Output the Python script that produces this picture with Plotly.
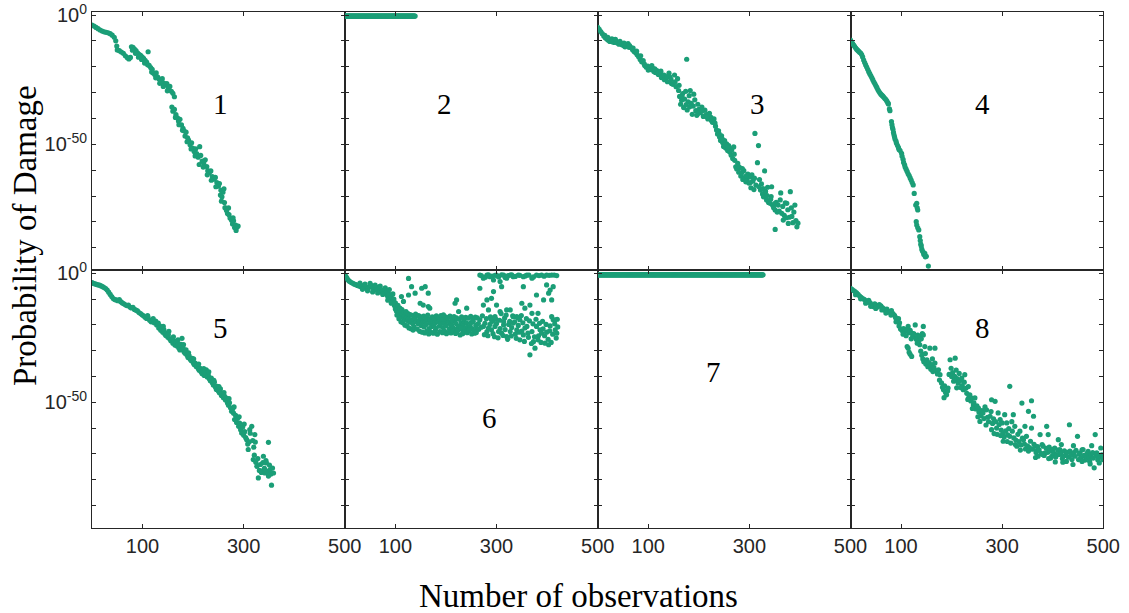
import plotly.graph_objects as go

# ---------------- data: (observation, log10 probability of damage) ----------------
p1 = [(0,-3.9),(4,-4.3),(8,-4.8),(12,-5.3),(16,-5.8),(20,-6.2),(24,-6.5),(28,-6.7),(32,-6.9),(36,-7.2),
      (40,-7.8),(44,-8.6),(47,-10),(49,-12),(50,-13.5),(54,-13.8),(58,-14.3),(62,-14.8),(66,-15.8),(70,-16.5),
      (73,-17),(76,-16.4),(78,-12.3),(81,-12.5),(84,-13.2),(87,-13.8),(90,-14.6),(93,-15.2),(96,-15.6),(99,-16.2),
      (102,-16.8),(105,-17.5),(108,-18.2),(111,-14.2),(113,-19.5),(116,-20.3),(119,-21),(121,-22.4),(124,-23),
      (127,-22.4),(130,-24),(133,-24.8),(136,-25.3),(139,-24.6),(142,-26.3),(145,-27),(148,-26.5),(151,-28.2),
      (154,-27.6),(157,-29.5),(160,-30.3),(163,-31.6),(158,-35.6),(160,-37.2),(163,-36.5),(166,-38.5),(169,-39.8),
      (171,-41),(174,-40.3),(177,-42.5),(180,-43.8),(182,-44.8),(184,-46.8),(186,-45.3),(189,-47.5),(191,-48.4),
      (194,-50.2),(197,-49.4),(199,-51.5),(202,-52.8),(205,-51.8),(207,-53.6),(210,-55),(213,-50.9),(215,-54.3),
      (218,-56.5),(221,-57.2),(224,-56),(227,-58.6),(229,-60.2),(232,-61),(235,-60.3),(238,-62.5),(241,-63.5),
      (244,-62.8),(247,-64.8),(250,-66.2),(252,-65.2),(255,-67.8),(257,-70.3),(259,-68.5),(261,-67.2),(256,-72),
      (263,-74.5),(266,-75.6),(268,-76.8),(271,-77.2),(273,-78.5),(276,-79.4),(278,-80.8),(280,-79.6),(282,-82.2),
      (284,-81.2),(285,-83.3),(287,-82),(289,-81.6),
      (80,-13.6),(86,-14.8),(92,-16.3),(98,-17.2),(104,-18.6),(110,-19.2),(118,-22),(126,-24.3),(134,-26.4),
      (141,-27.6),(149,-29.3),(165,-39.6),(172,-42.4),(179,-44.6),(188,-49),(196,-51.8),(204,-54.5),(212,-57.8),
      (220,-58.8),(228,-61.8),(236,-63.9),(245,-66.4),(254,-69.6),(262,-72.5),(270,-74.6),(279,-78.4)]

p2_obs = list(range(0, 140))
p2_log10 = [-0.4] * len(p2_obs)

p3 = [(0,-4.8),(3,-5.5),(6,-6.4),(9,-7.2),(12,-8.1),(15,-8.8),(18,-9.3),(21,-9.8),(24,-10.2),(27,-9.6),(30,-10.4),
      (33,-10.6),(36,-10.1),(39,-10.8),(42,-11.3),(45,-10.9),(48,-11.5),(51,-11.8),(54,-12.3),(57,-11.4),(60,-11.1),
      (63,-11.8),(66,-12.6),(69,-13.4),(72,-14.1),(75,-14.6),(78,-15.4),(81,-16.1),(84,-17.2),(87,-18.1),(90,-17.6),
      (93,-19.5),(96,-20.2),(99,-19.8),(102,-20.6),(105,-21.1),(108,-20.4),(111,-21.8),(114,-22.2),(117,-21.5),
      (120,-23),(123,-22.8),(126,-24.2),(129,-23.6),(132,-25),(135,-24.4),(138,-25.8),(141,-22.5),(143,-24),
      (146,-26.5),(149,-26.8),(152,-23.2),(155,-27.7),(158,-24.6),(160,-29.2),(162,-31.5),(164,-34.5),(166,-33),
      (168,-30.4),(170,-35.8),(172,-32.5),(174,-29.5),(176,-17.1),(177,-36.7),(179,-33.6),(181,-31.2),(183,-29.2),
      (185,-34.2),(187,-38.4),(189,-35.2),(192,-32.8),(194,-37),(196,-38.8),(198,-34.5),(200,-36.5),(203,-37.8),
      (206,-35.6),(209,-39.2),(212,-36.8),(215,-38.5),(218,-40.2),(221,-38),(224,-39.6),(227,-41.5),(230,-40.2),
      (233,-43),(235,-44.5),(237,-46),(239,-44.8),(241,-47.2),(243,-48.5),(245,-46.7),(247,-49.3),(249,-50.8),
      (251,-48.6),(253,-51.4),(255,-49.8),(257,-52.4),(259,-50.5),(261,-53),(263,-51.7),(265,-52.2),(267,-55.5),
      (269,-51),(271,-56.2),(273,-58.7),(275,-59.5),(277,-57.4),(279,-60.8),(281,-59),(283,-62.3),(285,-61),
      (287,-63.6),(289,-60.2),(291,-62.8),(293,-64.5),(295,-63.8),(297,-61.5),(299,-65),(301,-62.6),(303,-66.8),
      (305,-61.8),(307,-64.2),(309,-67.5),(311,-45.8),(313,-65.8),(316,-57.1),(318,-50.5),(320,-63.6),(322,-67.7),
      (324,-65.3),(326,-69.2),(328,-70.3),(330,-60.3),(332,-68.2),(334,-71.5),(336,-66.6),(338,-72.5),(341,-72.8),
      (343,-70.2),(344,-66.4),(346,-73.6),(348,-74.5),(351,-75.4),(351,-82.9),(353,-72.4),(355,-76.2),(357,-73.5),
      (359,-75.8),(361,-71.5),(362,-68.8),(364,-76.7),(366,-74),(367,-79.3),(369,-77.5),(371,-72.6),(373,-78.4),
      (374,-72.8),(376,-75.3),(377,-80.6),(379,-78.2),(381,-68.3),(383,-74.6),(384,-77.9),(386,-80.3),(388,-76.2),
      (390,-73.5),(392,-79.5),(394,-81.9),(396,-80.5),
      (14,-7.9),(20,-8.6),(28,-9.2),(35,-9.4),(44,-10.2),(52,-10.9),(62,-12.5),(70,-12.8),(77,-14),(85,-15.8),
      (92,-18.9),(100,-21.3),(107,-19.6),(113,-20.8),(119,-22.6),(125,-21.7),(131,-23.2),(137,-23.8),(145,-24.9),
      (153,-25.8),(161,-27.2),(167,-31.8),(175,-34.6),(182,-35.5),(190,-30.6),(199,-38),(207,-37.1),(216,-39.4),
      (225,-40.8),(232,-41.8),(240,-45.9),(246,-47.8),(252,-50.1),(258,-51.2),(264,-54.2),(270,-53.8),(278,-58.5),
      (286,-59.4),(294,-62.2),(302,-64.8),(310,-63.1),(319,-66.4),(327,-67.1),(335,-69.8),(342,-71.2),(350,-72.9)]

p4 = [(0,-9.7),(2,-10.4),(4,-11),(6,-11.5),(8,-12.1),(10,-12.7),(12,-13.2),(14,-13.6),(16,-14),(18,-14.4),
      (20,-14.7),(22,-15.3),(24,-16.2),(26,-17.4),(28,-18.4),(30,-19.3),(32,-20.1),(34,-21),(36,-21.9),(38,-22.7),
      (40,-23.4),(42,-24.2),(44,-25),(46,-25.8),(48,-26.5),(50,-27.3),(52,-28),(54,-28.8),(56,-29.5),(58,-30.1),
      (60,-30.6),(62,-31),(64,-31.4),(66,-31.8),(68,-32.3),(70,-32.7),(72,-33.3),(74,-34),(75,-34.4),(77,-36.3),
      (78,-37),(81,-41.2),(82,-42.4),(83,-43.5),(84,-44.2),(85,-45.4),(86,-46.3),(87,-47.1),(88,-47.9),(90,-48.8),
      (91,-49.6),(93,-50.5),(95,-51.3),(96,-52),(98,-52.4),(101,-53.5),(102,-54.6),(104,-55.8),(105,-57),
      (107,-57.9),(108,-58.8),(110,-59.6),(112,-60.5),(114,-61.4),(116,-62.1),(118,-63),(120,-63.8),(122,-64.8),
      (124,-65.7),(126,-69),(129,-73.5),(131,-72.8),(132,-74.6),(133,-75.4),(130,-79.9),(131,-81.2),(133,-82.3),
      (135,-83.1),(137,-85.7),(138,-87.2),(139,-88.6),(140,-89.3),(141,-90.5),(142,-91.2),(144,-91.8),(145,-92.6),
      (147,-92.2),(148,-93.5),(150,-93.3),(154,-97.1)]

p5 = [(0,-3.6),(3,-3.9),(6,-4.1),(9,-4.3),(12,-4.5),(15,-4.6),(18,-4.9),(21,-5.2),(24,-5.5),(27,-5.9),(30,-6.5),
      (33,-7.3),(36,-8.2),(39,-9),(42,-9.8),(45,-10.2),(48,-10.3),(51,-10.6),(54,-10.2),(57,-11),(60,-11.5),
      (63,-11.8),(66,-12.2),(69,-12.5),(72,-12.3),(75,-13.1),(78,-13.4),(81,-13.2),(84,-14),(87,-14.3),(90,-14.6),
      (93,-15.2),(96,-15.6),(99,-16.1),(102,-16.5),(105,-17),(108,-17.5),(111,-17.2),(114,-18.2),(117,-18.8),
      (120,-18.3),(123,-19.2),(126,-18.5),(128,-20),(130,-19.6),(132,-21.2),(134,-20.4),(136,-22.1),(138,-21.5),
      (140,-22.8),(142,-21.8),(144,-23.5),(146,-24.1),(148,-23.2),(150,-24.8),(152,-22.5),(154,-25.5),(156,-26.1),
      (158,-25.3),(160,-27.1),(162,-26.2),(164,-27.8),(166,-26.8),(168,-28.2),(170,-25.8),(172,-29),(174,-29.7),
      (176,-27.5),(178,-25.2),(180,-28.8),(182,-30.4),(184,-31),(186,-29.7),(188,-31.8),(190,-32.6),(192,-31.9),
      (194,-33.2),(196,-33.8),(198,-33),(200,-34.6),(202,-35.3),(204,-34.8),(206,-36.1),(208,-35.5),(210,-36.9),
      (212,-37.6),(214,-36.8),(216,-38.3),(218,-38.9),(220,-37.8),(222,-39.6),(224,-38.8),(226,-37.4),(228,-40.2),
      (230,-39.5),(232,-40.9),(234,-41.6),(236,-40.6),(238,-42.4),(240,-43.3),(242,-42.2),(244,-44.1),(246,-45),
      (248,-43.8),(250,-45.6),(252,-46.3),(254,-44.8),(256,-47.4),(258,-46.5),(260,-48.2),(262,-47.6),(264,-49.1),
      (266,-48.4),(268,-50.3),(270,-51.1),(272,-50.2),(274,-52.1),(276,-53.5),(278,-52.6),(280,-54.2),(282,-56.7),
      (284,-55.1),(286,-57.8),(288,-56.2),(290,-59.3),(292,-58.1),(294,-60.6),(296,-61.9),(298,-59.6),(300,-62.8),
      (302,-61.4),(304,-63.7),(306,-64.5),(308,-66.2),(309,-68.3),(311,-65.3),(313,-62),(316,-59.3),(318,-64.8),
      (320,-67.4),(322,-62.5),(319,-72.2),(321,-70.5),(324,-73.2),(326,-74.8),(328,-71.8),(329,-79.3),(331,-76.4),
      (333,-74.1),(335,-77.2),(336,-76.7),(338,-73.4),(339,-70.9),(341,-75.6),(342,-77.4),(344,-72.6),(345,-73.5),
      (347,-76.8),(349,-65.5),(349,-78.6),(351,-74.3),(352,-76.1),(354,-77.8),(355,-82.1),(357,-75.5),(359,-77.4),
      (110,-16.4),(121,-17.6),(131,-19.3),(141,-20.6),(151,-23.8),(161,-24.6),(171,-27.3),(181,-27.6),(191,-30.8),
      (201,-33.2),(211,-35.2),(221,-36.9),(231,-38.2),(241,-41.5),(251,-43.9),(261,-46.2),(271,-48.6),(281,-51.8),
      (291,-55.6),(301,-58.4),(312,-60.6),(323,-65.4)]

p6 = [(0,-0.7),(2,-1.2),(4,-1.8),(6,-2.4),(8,-2.9),(10,-3.2),(13,-3.6),(16,-3.9),(19,-4.2),(22,-4.4),(25,-4.7),
      (28,-4.9),(31,-5.1),(34,-4.8),(37,-5.3),(40,-5.6),(43,-5.4),(46,-6),(49,-5.2),(52,-4.7),(55,-5.5),(58,-6.2),
      (61,-5.8),(64,-6.5),(67,-5.3),(70,-6.8),(73,-7.2),(76,-6.4),(79,-7.8),(82,-7.3),(84,-8.6),(86,-9.5),(88,-8.2),
      (90,-10.1),(92,-9.3),(94,-10.8),(96,-11.2),(98,-12.5),(100,-13.8),(102,-14.6),(104,-13.4),(106,-15.5),
      (108,-14.8),(110,-16.2),(112,-16.8),(114,-15.6),(116,-17.3),(118,-16.5),(120,-17.8),(122,-17.2),(124,-18.3),
      (126,-17.6),(128,-18.9),(130,-18.1),(132,-18.7),(134,-19.5),(136,-17.8),(139,-17.4),(142,-18.8),(145,-19.6),
      (147,-18.2),(149,-16.8),(151,-20.3),(153,-19.1),(155,-18.5),(157,-20.8),(159,-18.7),(161,-19.8),(163,-17.6),
      (165,-18),(167,-21.4),(169,-19.4),(172,-20.6),(174,-18.8),(176,-20.1),(178,-19.3),(180,-21.2),(182,-18.4),
      (185,-18.7),(187,-20.5),(189,-19.6),(192,-18),(194,-21),(196,-19.3),(198,-19.3),(200,-20.4),(202,-18.2),
      (205,-18.7),(207,-21.5),(209,-19.8),(211,-20),(213,-18.6),(215,-21.2),(218,-18),(220,-19.5),(222,-21.6),
      (225,-20.6),(228,-23.9),(230,-19.2),(232,-21.8),(234,-20),(236,-18.5),(238,-21.3),(241,-19.3),(243,-20.8),
      (245,-22.2),(248,-20.6),(250,-19.1),(252,-21.5),(254,-18.7),(257,-23.2),(259,-20.2),(261,-21.3),(264,-19.5),
      (267,-18),(270,-20.9),(274,-20.6),(277,-19.4),(281,-22.6),(284,-21.2),(287,-19.8),(290,-21.9),(293,-23.4),
      (297,-20.6),(300,-19.5),(304,-22.6),(307,-21.4),(310,-23.2),(314,-20),(317,-21.8),(320,-24.5),(324,-19.8),
      (327,-22.6),(330,-21),(333,-19.3),(337,-23.6),(340,-21.9),(343,-20.2),(346,-25.8),(350,-22.4),(353,-23.9),
      (356,-21.2),(360,-20.6),(363,-24.8),(366,-31.6),(370,-22.6),(373,-26.5),(376,-29),(379,-20.6),(383,-24.2),
      (386,-21.9),(389,-23.2),(392,-21.5),(396,-27.1),(399,-22.8),(403,-27.7),(406,-20.4),(409,-16.8),(412,-18),
      (416,-21.9),(419,-23.2),(421,-20.8),
      # thicker band
      (30,-3.8),(35,-6.2),(40,-4.2),(45,-6.8),(50,-3.9),(55,-7.2),(60,-4.6),(65,-7.6),(70,-5),(75,-8.2),(80,-5.6),
      (85,-10.4),(88,-6.3),(92,-11.6),(95,-8),(97,-10),
      (100,-11.5),(103,-16.2),(105,-12.4),(107,-17.6),(109,-13.5),(111,-18.8),(113,-14.1),(115,-19.2),(117,-15),
      (119,-20.1),(121,-14.8),(123,-20.4),(125,-15.6),(127,-21.2),(129,-16),(131,-21.5),(133,-16.3),(135,-22),
      (137,-20.8),(140,-15.8),(143,-21.6),(146,-16.4),(148,-22.5),(150,-17.2),(153,-22.8),(156,-16.6),(158,-23.1),
      (160,-17.5),(162,-22.4),(164,-16.2),(166,-23.5),(168,-17.8),(170,-22.8),(173,-16.9),(175,-23.2),(177,-17.4),
      (179,-22.1),(181,-16.5),(183,-23.6),(186,-17.1),(188,-22.6),(190,-16.4),(193,-23),(195,-17.8),(197,-22.3),
      (199,-16.9),(201,-23.4),(203,-17.2),(206,-22.8),(208,-16.6),(210,-23.1),(212,-17.5),(214,-22.5),(216,-16.8),
      (219,-23.3),(221,-17.3),(223,-22.2),(226,-17.8),(229,-21.1),(231,-16.9),(233,-23.4),(235,-17.6),(237,-22.7),
      (239,-17.1),(242,-23),(244,-17.4),(246,-21.9),(249,-16.7),(251,-23.5),(253,-17.9),(255,-22.4),(258,-17),
      (260,-22.9),(262,-17.3),(265,-21.7),
      (272,-16.5),(276,-23.8),(280,-17.6),(283,-24.2),(288,-16.9),(292,-18.6),(296,-24.6),(299,-17.8),(303,-25),
      (306,-18.2),(309,-15.6),(313,-24.1),(316,-17.3),(319,-16.2),(322,-25.6),(326,-18.6),(329,-24.3),(332,-16.5),
      (336,-18.8),(339,-25.2),(342,-17.2),(345,-22.8),(349,-16.4),(352,-19.2),(355,-26.4),(359,-17.6),(362,-23.2),
      (365,-18.4),(369,-27.2),(372,-19.6),(375,-24.6),(378,-17.8),(382,-25.8),(385,-19.4),(388,-26.8),(391,-18.6),
      (395,-24.2),(398,-19.8),(402,-25.6),(405,-22.3),(408,-26.8),(411,-23.6),(415,-19.6),(418,-25.1),(420,-17.8),
      # scatter above the main band
      (126,-2),(132,-5.2),(139,-7.7),(152,-5.8),(159,-5.2),(165,-7.7),(149,-11.6),(155,-12.3),(165,-12.9),
      (168,-13.5),(112,-9),(116,-10.9),(126,-8.4),(218,-11.6),(221,-10.3),(241,-13.5),(225,-14.8),(195,-16.1),
      (267,-5.8),(274,-12.3),(281,-10.3),(284,-14.2),(290,-9.7),(294,-7.1),(300,-12.3),(307,-14.8),(310,-5.2),
      (314,-18.7),(320,-14.2),(327,-14.2),(333,-16.8),(340,-16.8),(350,-11.6),(353,-5.2),(356,-13.5),(366,-12.3),
      (370,-15.5),(379,-8.4),(382,-15.5),(393,-10.3),(399,-4.5),(403,-7.7),(406,-6.5),(409,-10.3),(412,-5.2),
      (416,-18),(290,-18),(297,-16.8),(346,-18),
      # cluster near probability one
      (267,-0.7),(270,-0.9),(274,-1.9),(278,-1.5),(281,-0.7),(284,-0.6),(287,-1.3),(291,-1.1),(294,-2.6),
      (297,-0.8),(300,-0.7),(304,-1.4),(307,-3.2),(310,-0.6),(314,-0.7),(317,-1.6),(320,-1.9),(323,-0.9),
      (327,-0.7),(330,-0.6),(333,-1.3),(337,-1.2),(343,-0.7),(346,-0.8),(353,-1.3),(357,-1.0),(360,-0.7),
      (364,-0.7),(370,-1.9),(373,-1.4),(379,-0.7),(384,-0.9),(389,-0.7),(394,-1.1),(399,-0.7),(404,-0.8),
      (409,-0.7),(414,-0.7),(419,-0.9)]

p7_obs = list(range(0, 328))
p7_log10 = [-0.6] * len(p7_obs)

p8 = [(0,-5.8),(3,-6.2),(6,-6.7),(9,-7.1),(12,-7.6),(15,-8.2),(18,-8.8),(21,-9.3),(24,-9.8),(27,-10.1),(30,-10.6),
      (33,-11),(36,-10.5),(39,-11.5),(42,-12.2),(45,-12.9),(48,-11.8),(51,-12.4),(54,-13),(57,-12.1),(60,-12.6),
      (63,-13.3),(66,-13.8),(69,-14.4),(72,-13.9),(75,-14.8),(78,-15.2),(81,-14.5),(84,-15.6),(87,-16.3),(89,-17.1),
      (91,-17.8),(93,-18.5),(95,-17.6),(97,-19.2),(99,-21.6),(102,-22.2),(105,-21.4),(108,-22.6),(111,-21.8),
      (114,-20.6),(116,-23),(118,-22.1),(121,-23.2),(123,-24.6),(125,-23.4),(128,-20),(130,-25.6),(131,-25.1),
      (133,-24),(135,-26.2),(137,-24.5),(140,-25.4),(142,-23.4),(144,-20.6),(144,-23.9),(112,-28.4),(114,-29),
      (116,-30.6),(118,-31.4),(121,-32.2),(137,-27.7),(139,-30.2),(141,-31.8),(143,-33.2),(145,-34.3),(147,-28.4),
      (149,-35.2),(151,-33.5),(153,-36.2),(155,-34.6),(157,-29),(157,-36.1),(159,-37.2),(161,-35.4),(163,-38.1),
      (165,-36.5),(167,-29),(167,-34.8),(170,-37.8),(172,-39),(174,-37.4),(177,-39.3),(180,-42.5),(182,-44.2),
      (184,-45.1),(186,-43.6),(188,-46.2),(190,-47.1),(192,-45.6),(193,-44.5),(195,-39.2),(197,-33.5),(199,-36.8),
      (200,-40),(202,-38.5),(204,-41.8),(206,-39.9),(207,-32.9),(207,-41.3),(209,-37.5),(211,-40.8),(213,-42.6),
      (215,-38.8),(217,-41.5),(220,-40.6),(221,-43.5),(223,-45.1),(225,-42.2),(226,-39.3),(228,-44.6),(230,-46.5),
      (233,-43.9),(234,-48.2),(236,-47.1),(238,-49.5),(240,-48.4),(243,-51),(244,-50.2),(246,-48.3),(248,-52.6),
      (250,-51.4),(253,-52.2),(254,-53.8),(256,-57.4),(258,-55.2),(260,-53.2),(262,-54.1),(264,-56.3),(266,-51.8),
      (269,-52.9),(271,-55.8),(273,-57.5),(276,-55.4),(278,-53.6),(279,-49),(279,-60.6),(281,-58.2),(283,-56.4),
      (286,-49.6),(287,-57.5),(289,-60),(290,-62.4),(292,-54.1),(294,-58.6),(296,-56.7),(298,-60.8),(300,-58),
      (302,-61.9),(302,-65.1),(304,-63.4),(305,-54.8),(307,-61.1),(309,-58),(311,-62.6),(313,-60.2),(315,-43.8),
      (315,-63.2),(317,-65.8),(319,-57.5),(320,-61.2),(322,-54.8),(323,-63.8),(325,-59.3),(327,-64.6),(329,-67),
      (331,-62.4),(333,-65.2),(335,-61.2),(337,-66.5),(339,-50.3),(340,-63.9),(342,-64.5),(344,-66.2),(345,-59.3),
      (346,-68.1),(348,-63.2),(350,-66.9),(352,-53.5),(354,-67.6),(356,-65.1),(358,-49.4),(358,-60),(360,-68.2),
      (362,-55.4),(363,-66.3),(365,-67),(367,-69.5),(368,-68.9),(370,-67.2),(371,-70.9),(373,-68.4),(375,-62.5),
      (377,-69.8),(379,-66.4),(381,-67),(383,-70.6),(385,-69.6),(387,-67.8),(388,-59.3),(390,-69.4),(391,-62.5),
      (393,-67.4),(395,-68.9),(396,-71.6),(398,-70.9),(400,-68.2),(402,-69.7),(404,-67.7),(406,-71.2),(408,-70.3),
      (410,-68.5),(411,-64.5),(413,-70.2),(414,-68.3),(416,-69.8),(417,-66.4),(419,-71.8),(421,-70.9),(423,-68.8),
      (425,-70.6),(427,-72.9),(429,-69.4),(431,-71.3),(433,-58.7),(434,-68.9),(436,-70.4),(438,-72.2),(441,-66.8),
      (442,-69.5),(444,-70.9),(446,-68.6),(449,-63.2),(451,-72.2),(452,-70.1),(454,-69.6),(456,-71.4),(458,-68.4),
      (460,-68.3),(462,-70.6),(464,-72.4),(467,-71.5),(468,-69.8),(470,-69),(472,-71.2),(473,-72.8),(475,-70.3),
      (477,-66.8),(479,-69.5),(480,-71.6),(482,-75.4),(484,-62.5),(485,-70.8),(487,-69.6),(489,-72.3),(490,-70.5),
      (492,-73.5),(494,-71.2),(495,-67.7),(497,-70.4),(499,-72.2),(500,-70.9),
      (10,-8.3),(20,-9.9),(30,-11.6),(40,-12.8),(50,-13.6),(62,-14.2),(70,-15.4),(80,-16.2),(90,-18.8),(96,-20.4),
      (104,-23.6),(110,-24.2),(120,-25.4),(132,-27.1),(148,-31.1),(162,-33.2),(176,-41.4),(185,-48.2),(210,-44.4),
      (218,-44.3),(232,-48.9),(241,-52.4),(252,-55.6),(268,-58.8),(284,-62.1),(297,-62.9),(310,-65.2),(326,-66.4),
      (336,-68.5),(352,-68.9),(366,-71.4),(380,-70.2),(392,-71.8),(405,-73.1),(420,-73.2),(440,-74.1),(458,-72.9),
      (474,-73.9)]

panel_labels = ["1", "2", "3", "4", "5", "6", "7", "8"]
x_tick_vals = [100, 300, 500]
x_tick_text = ["100", "300", "500"]
y_major_exponents = [0, -50]
y_major_text = ["10<sup>0</sup>", "10<sup>-50</sup>"]
y_minor_exponents = [-10, -20, -30, -40, -60, -70, -80, -90]

# ---------------- layout constants ----------------
W, H = 1129, 613
col_edges = [92.0, 344.8, 597.7, 850.5, 1103.3]
row_edges = [11.7, 270.0, 527.7]
COLOR = "#1b9e77"
AX = "#262626"


def split(pts):
    return [p[0] for p in pts], [10 ** p[1] for p in pts]


series = [
    split(p1),
    (p2_obs, [10 ** v for v in p2_log10]),
    split(p3),
    split(p4),
    split(p5),
    split(p6),
    (p7_obs, [10 ** v for v in p7_log10]),
    split(p8),
]

# label centres in pixels
label_px = [(220, 104), (444, 104), (757, 104), (982, 104),
            (220, 328), (489, 418), (713, 372), (982, 328)]

fig = go.Figure()
layout = dict(width=W, height=H, margin=dict(l=0, r=0, t=0, b=0),
              paper_bgcolor="white", plot_bgcolor="white", showlegend=False)

tick_font = dict(family="Liberation Sans, Arial, sans-serif", size=20, color=AX)
for i, (xs, ys) in enumerate(series):
    r, c = divmod(i, 4)
    n = i + 1
    xa = "xaxis" if n == 1 else f"xaxis{n}"
    ya = "yaxis" if n == 1 else f"yaxis{n}"
    fig.add_trace(go.Scatter(x=xs, y=ys, mode="markers",
                             marker=dict(color=COLOR, size=5.2, line=dict(width=0)),
                             xaxis="x" if n == 1 else f"x{n}",
                             yaxis="y" if n == 1 else f"y{n}",
                             hoverinfo="skip"))
    layout[xa] = dict(domain=[col_edges[c] / W, col_edges[c + 1] / W],
                      range=[0, 500], anchor="y" if n == 1 else f"y{n}",
                      tickmode="array", tickvals=x_tick_vals, ticktext=x_tick_text,
                      showticklabels=(r == 1), ticks="inside", ticklen=4, tickwidth=1,
                      tickcolor=AX, showline=True, linecolor=AX, linewidth=1, mirror="ticks",
                      showgrid=False, zeroline=False, automargin=False, tickfont=tick_font)
    layout[ya] = dict(domain=[1 - row_edges[r + 1] / H, 1 - row_edges[r] / H],
                      type="log", range=[-98.6, 1.28], anchor="x" if n == 1 else f"x{n}",
                      tickmode="array", tickvals=[10 ** e for e in y_major_exponents],
                      ticktext=y_major_text, showticklabels=(c == 0),
                      ticks="inside", ticklen=4, tickwidth=1, tickcolor=AX,
                      minor=dict(tickmode="array", tickvals=[10 ** e for e in y_minor_exponents],
                                 ticks="inside", ticklen=4, tickwidth=1, tickcolor=AX, showgrid=False),
                      showline=True, linecolor=AX, linewidth=1, mirror="ticks",
                      showgrid=False, zeroline=False, automargin=False, tickfont=tick_font)

serif = "Liberation Serif, Times New Roman, serif"
annotations = []
for (px, py), txt in zip(label_px, panel_labels):
    annotations.append(dict(x=px / W, y=1 - py / H, xref="paper", yref="paper",
                            text=txt, showarrow=False, xanchor="center", yanchor="middle",
                            font=dict(family=serif, size=29, color="black")))
annotations.append(dict(x=578 / W, y=1 - 596 / H, xref="paper", yref="paper",
                        text="Number of observations", showarrow=False, xanchor="center", yanchor="middle",
                        font=dict(family=serif, size=33, color="black")))
annotations.append(dict(x=25 / W, y=1 - 236 / H, xref="paper", yref="paper",
                        text="Probability of Damage", showarrow=False, textangle=-90,
                        xanchor="center", yanchor="middle",
                        font=dict(family=serif, size=33, color="black")))
layout["annotations"] = annotations

fig.update_layout(**layout)
fig.write_html("out.html")
